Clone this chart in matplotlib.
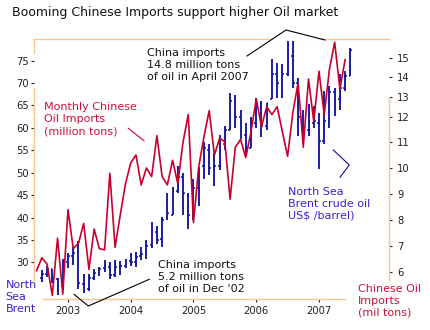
import numpy as np
import matplotlib.pyplot as plt
from matplotlib.patches import Polygon
from matplotlib.lines import Line2D

# monthly Chinese crude imports (mil tons), Jul 2002 .. Jun 2007
imports = [6.05, 6.55, 6.3, 5.1, 7.3, 5.15, 8.4, 6.9, 7.1, 7.87, 6.1, 7.65,
           6.9, 6.85, 9.8, 6.95, 8.2, 9.4, 10.2, 10.5, 9.35, 10.0, 9.67, 11.25,
           9.67, 9.35, 10.3, 9.4, 11.0, 12.1, 7.9, 10.05, 11.2, 12.3, 10.5, 11.15,
           11.0, 8.8, 10.8, 11.1, 10.4, 11.4, 12.9, 11.6, 12.5, 12.1, 12.5, 11.4,
           10.45, 12.2, 13.7, 10.8, 13.9, 11.8, 14.3, 12.1, 14.4, 15.8, 13.4, 14.9]
imports_start = 2002 + 6 / 12.0

# monthly Brent bars (US$/barrel), Aug 2002 .. Jul 2007
brent_high = [28.3, 29.2, 28.6, 26.4, 30.8,
              32.1, 33.4, 34.7, 27.4, 27.4, 28.6, 28.9, 30.6, 30.1, 30.6, 30.2, 30.8,
              32.0, 32.3, 33.5, 35.0, 39.0, 38.0, 40.2, 45.5, 46.8, 51.5, 50.0, 45.5,
              48.5, 51.3, 56.8, 56.5, 54.3, 58.5, 60.5, 67.7, 67.3, 64.0, 61.0, 62.5,
              66.6, 66.0, 65.5, 75.3, 74.5, 74.2, 79.4, 79.4, 71.2, 64.1, 65.3, 64.9,
              63.4, 68.2, 69.3, 69.0, 72.0, 72.7, 77.9]
brent_low = [25.7, 26.8, 25.3, 22.8, 23.9,
             28.7, 29.5, 24.0, 23.1, 23.6, 26.0, 26.9, 27.9, 26.2, 26.8, 27.1, 28.7,
             29.2, 29.0, 30.6, 30.8, 33.3, 34.0, 33.5, 39.5, 40.5, 45.5, 40.5, 37.5,
             39.5, 42.5, 48.5, 49.5, 47.0, 50.5, 55.0, 59.5, 60.0, 57.5, 54.0, 55.5,
             60.0, 58.0, 59.5, 66.4, 66.7, 66.7, 71.6, 69.0, 58.2, 57.5, 58.2, 60.0,
             50.8, 56.3, 60.0, 62.7, 64.1, 68.2, 71.6]
brent_open = [26.5, 27.5, 28.4, 26.3, 24.7,
              30.0, 31.5, 32.3, 25.2, 24.0, 26.4, 27.6, 28.7, 29.0, 27.2, 28.9, 29.2,
              30.2, 30.0, 31.5, 32.0, 33.8, 36.8, 35.2, 40.0, 40.5, 46.0, 49.0, 45.0,
              40.5, 46.5, 51.5, 55.0, 51.0, 51.5, 56.5, 59.5, 66.0, 62.5, 58.5, 55.5,
              61.0, 65.5, 60.5, 66.5, 72.0, 70.0, 72.0, 76.0, 70.0, 62.5, 59.5, 61.0,
              61.0, 57.0, 61.5, 68.0, 66.5, 69.0, 71.6]
brent_close = [27.4, 28.6, 26.6, 24.6, 30.2,
               31.3, 32.0, 25.3, 23.6, 26.5, 27.6, 28.6, 29.3, 27.2, 28.9, 29.1, 30.2,
               30.0, 31.2, 31.8, 33.6, 37.0, 35.0, 39.5, 41.0, 46.0, 49.0, 45.5, 40.5,
               46.5, 51.0, 55.5, 51.0, 51.5, 56.5, 59.5, 66.0, 62.5, 58.5, 55.5, 61.0,
               65.5, 60.5, 65.5, 72.0, 70.0, 72.0, 76.0, 70.0, 62.5, 59.5, 61.0, 61.5,
               57.0, 61.5, 68.0, 66.5, 69.0, 71.6, 77.4]
brent_start = 2002 + 7 / 12.0

years = [2003, 2004, 2005, 2006, 2007]
left_ticks = [30, 35, 40, 45, 50, 55, 60, 65, 70, 75]
right_ticks = [6, 7, 8, 9, 10, 11, 12, 13, 14, 15]

RED = '#c8002e'
BLUE = '#0c0c9c'
TXT_RED = '#d0103a'
TXT_BLUE = '#3a22d0'
SPINE = '#f8c48c'
DARK = '#202020'

W, H = 430, 330
fig = plt.figure(figsize=(4.3, 3.3), dpi=100)
ax = fig.add_axes([34 / W, 1 - 299 / H, (389 - 34) / W, (299 - 39) / H])

def fx(px):
    return px / W

def fy(py):
    return 1 - py / H

# brent OHLC bars
bx = brent_start + np.arange(len(brent_high)) / 12.0
tw = 0.028
ax.vlines(bx, brent_low, brent_high, color=BLUE, lw=1.3, zorder=3)
ax.hlines(brent_open, bx - tw, bx, color=BLUE, lw=1.1, zorder=3)
ax.hlines(brent_close, bx, bx + tw, color=BLUE, lw=1.1, zorder=3)

ax.set_xlim(2002.458, 2008.116)
ax.set_ylim(21.81, 79.84)
ax.set_xticks(years)
ax.set_xticklabels([str(y) for y in years])
ax.set_yticks(left_ticks)
ax.tick_params(axis='y', direction='out', length=2.5, width=0.8, color=DARK,
               labelsize=7.2, pad=1, labelcolor=DARK)
ax.tick_params(axis='x', direction='out', length=2, width=0.8, color=DARK,
               labelsize=7.2, pad=3, labelcolor=DARK)

# right axis: tick spacing in the original is not even
rk_v = np.array([0, 6, 7, 8, 9, 10, 11, 12, 13, 14, 15, 20], dtype=float)
rk_p = np.array([428, 272, 246, 220, 194, 168, 142, 116.5, 97, 77, 57.7, -38.8])

def fwd(v):
    return -np.interp(v, rk_v, rk_p)

def inv(u):
    return np.interp(u, -rk_p, rk_v)

ax2 = ax.twinx()
ax2.set_yscale('function', functions=(fwd, inv))
rx = imports_start + np.arange(len(imports)) / 12.0
ax2.plot(rx, imports, color=RED, lw=1.2, zorder=3)
ax2.set_ylim(4.9615, 15.969)
ax2.set_yticks(right_ticks)
ax2.set_yticklabels([str(t) for t in right_ticks])
ax2.minorticks_off()
ax2.tick_params(axis='y', direction='out', length=2.5, width=0.8, color=DARK,
                labelsize=7.2, pad=3.5, labelcolor=DARK)

for s in ['top', 'bottom', 'left']:
    ax.spines[s].set_color(SPINE)
    ax.spines[s].set_linewidth(1)
    ax2.spines[s].set_visible(False)
ax.spines['right'].set_visible(False)
ax2.spines['right'].set_color(SPINE)
ax2.spines['right'].set_linewidth(1)
ax.spines['bottom'].set_bounds(2002.60, 2007.414)
ax.spines['left'].set_bounds(26.05, 68.9)
ax2.spines['right'].set_bounds(5.69, 13.0)
ax.axvline(2002.458, ymin=0.946, ymax=1, color=SPINE, lw=1, clip_on=False)

fig.text(fx(12), fy(12.7), 'Booming Chinese Imports support higher Oil market',
         fontsize=9, color='#111111', va='center', ha='left')

def note(x, y, s, color):
    fig.text(fx(x), fy(y), s, fontsize=8, color=color, va='center', ha='left',
             linespacing=1.25)

note(146.7, 65, 'China imports\n14.8 million tons\nof oil in April 2007', '#111111')
note(44.3, 119, 'Monthly Chinese\nOil Imports\n(million tons)', TXT_RED)
note(158.3, 277.3, "China imports\n5.2 million tons\nof oil in Dec '02", '#111111')
note(287.7, 204, 'North Sea\nBrent crude oil\nUS$ /barrel)', TXT_BLUE)
note(5.7, 296.7, 'North\nSea\nBrent', TXT_BLUE)
note(357.7, 300.7, 'Chinese Oil\nImports\n(mil tons)', TXT_RED)

# callout pointers
fig.patches.append(Polygon([(fx(271), fy(40.8)), (fx(286), fy(31)), (fx(325), fy(40.8))],
                           closed=True, facecolor='white', edgecolor='none',
                           transform=fig.transFigure, zorder=1))

def pointer(pts, color):
    xs = [fx(p[0]) for p in pts]
    ys = [fy(p[1]) for p in pts]
    fig.lines.append(Line2D(xs, ys, color=color, lw=0.8, transform=fig.transFigure, zorder=2))

pointer([(247, 56), (286, 30), (325, 40)], 'black')
pointer([(74, 294.3), (88.3, 306), (149.3, 279.3)], 'black')
pointer([(128.3, 128.3), (144, 140.7)], RED)
pointer([(333.3, 150), (349.3, 165), (340, 177.3)], BLUE)

fig.savefig('out.png', dpi=100)
